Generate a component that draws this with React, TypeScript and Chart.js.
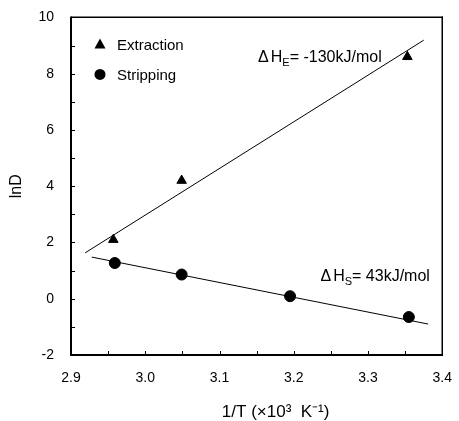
import React, { useEffect, useRef } from 'react';
import { Chart, registerables } from 'chart.js';

Chart.register(...registerables);

const FONT = '"Liberation Sans", Arial, Helvetica, sans-serif';

// Data
const extractionX = [2.957, 3.049, 3.353];
const extractionY = [2.1, 4.2, 8.6];
const strippingX = [2.959, 3.049, 3.195, 3.355];
const strippingY = [1.27, 0.86, 0.09, -0.65];
const extractionFitX = [2.919, 3.375];
const extractionFitY = [1.63, 9.19];
const strippingFitX = [2.928, 3.381];
const strippingFitY = [1.48, -0.9];

const xTicks = [2.9, 3.0, 3.1, 3.2, 3.3, 3.4];
const yTicks = [-2, 0, 2, 4, 6, 8, 10];
const legendLabels = ['Extraction', 'Stripping'];
const xTitle = '1/T (×10³  K⁻¹)';
const yTitle = 'lnD';
// annotation: [delta, main, subscript, rest], anchored in data coordinates
const annotations = [
  { parts: ['Δ', 'H', 'E', '= -130kJ/mol'], x: 3.152, y: 8.56 },
  { parts: ['Δ', 'H', 'S', '= 43kJ/mol'], x: 3.236, y: 0.77 },
];

const zip = (xs: number[], ys: number[]) => xs.map((x, i) => ({ x, y: ys[i] }));

const overlayPlugin = {
  id: 'overlay',
  afterDraw(chart: any) {
    const { ctx, chartArea: a, scales } = chart;
    const xs = scales.x;
    const ys = scales.y;
    ctx.save();
    ctx.setLineDash([]);
    ctx.globalAlpha = 1;
    ctx.strokeStyle = '#000000';
    ctx.fillStyle = '#000000';
    const L = Math.round(a.left);
    const R = Math.round(a.right);
    const T = Math.round(a.top);
    const B = Math.round(a.bottom);
    // frame
    ctx.fillRect(L - 0.5, T - 0.5, R - L + 1.5, 1.5);
    ctx.fillRect(L - 0.5, B - 0.5, R - L + 1.5, 1.5);
    ctx.fillRect(L - 0.5, T - 0.5, 1.5, B - T + 1.5);
    ctx.fillRect(R - 0.5, T - 0.5, 1.5, B - T + 1.5);
    // inward ticks
    ctx.lineWidth = 1;
    const xAll: number[] = [];
    xTicks.forEach((v, i) => {
      xAll.push(v);
      if (i < xTicks.length - 1) xAll.push((v + xTicks[i + 1]) / 2);
    });
    xAll.forEach((v) => {
      const px = Math.round(xs.getPixelForValue(v)) + 0.5;
      ctx.beginPath();
      ctx.moveTo(px, B);
      ctx.lineTo(px, B - 4);
      ctx.stroke();
    });
    const yAll: number[] = [];
    yTicks.forEach((v, i) => {
      yAll.push(v);
      if (i < yTicks.length - 1) yAll.push((v + yTicks[i + 1]) / 2);
    });
    yAll.forEach((v) => {
      const py = Math.round(ys.getPixelForValue(v)) + 0.5;
      ctx.beginPath();
      ctx.moveTo(L, py);
      ctx.lineTo(L + 4, py);
      ctx.stroke();
    });

    // legend
    const lx = a.left + 29;
    const ly0 = a.top + 27;
    const gap = 30;
    ctx.font = `15px ${FONT}`;
    ctx.textBaseline = 'middle';
    ctx.textAlign = 'left';
    legendLabels.forEach((label, i) => {
      const cy = ly0 + i * gap;
      ctx.beginPath();
      if (i === 0) {
        const r = 6;
        ctx.moveTo(lx, cy - r);
        ctx.lineTo(lx + r * 0.92, cy + r * 0.7);
        ctx.lineTo(lx - r * 0.92, cy + r * 0.7);
        ctx.closePath();
      } else {
        ctx.arc(lx, cy, 5.5, 0, Math.PI * 2);
      }
      ctx.fill();
      ctx.fillText(label, lx + 17, cy + 1);
    });

    // annotations
    annotations.forEach((an) => {
      let x = xs.getPixelForValue(an.x);
      const y = ys.getPixelForValue(an.y);
      ctx.font = `16px ${FONT}`;
      ctx.textBaseline = 'middle';
      ctx.fillText(an.parts[0], x, y);
      x += ctx.measureText(an.parts[0]).width + 2;
      ctx.fillText(an.parts[1], x, y);
      x += ctx.measureText(an.parts[1]).width;
      ctx.font = `11px ${FONT}`;
      ctx.fillText(an.parts[2], x, y + 5);
      x += ctx.measureText(an.parts[2]).width;
      ctx.font = `16px ${FONT}`;
      ctx.fillText(an.parts[3], x, y);
    });

    // x title
    ctx.font = `17px ${FONT}`;
    ctx.textAlign = 'center';
    ctx.textBaseline = 'middle';
    ctx.fillText(xTitle, (a.left + a.right) / 2 + 19, a.bottom + 57);
    ctx.restore();
  },
};

export default function App() {
  const ref = useRef<HTMLCanvasElement | null>(null);
  useEffect(() => {
    if (!ref.current) return;
    const chart = new Chart(ref.current, {
      type: 'scatter',
      data: {
        datasets: [
          {
            label: 'Extraction fit',
            data: zip(extractionFitX, extractionFitY),
            showLine: true,
            borderColor: '#000',
            borderWidth: 1,
            pointRadius: 0,
            fill: false,
          },
          {
            label: 'Stripping fit',
            data: zip(strippingFitX, strippingFitY),
            showLine: true,
            borderColor: '#000',
            borderWidth: 1,
            pointRadius: 0,
            fill: false,
          },
          {
            label: legendLabels[0],
            data: zip(extractionX, extractionY),
            pointStyle: 'triangle',
            pointRadius: 5.5,
            backgroundColor: '#000',
            borderColor: '#000',
            borderWidth: 1,
          },
          {
            label: legendLabels[1],
            data: zip(strippingX, strippingY),
            pointStyle: 'circle',
            pointRadius: 5.5,
            backgroundColor: '#000',
            borderColor: '#000',
            borderWidth: 1,
          },
        ],
      },
      options: {
        animation: false,
        responsive: false,
        devicePixelRatio: 1,
        layout: { padding: { left: 0, right: 13, top: 16, bottom: 0 } },
        plugins: {
          legend: { display: false },
          tooltip: { enabled: false },
          title: { display: false },
        },
        scales: {
          x: {
            type: 'linear',
            min: xTicks[0],
            max: xTicks[xTicks.length - 1],
            grid: { display: false },
            border: { display: true, color: '#000', width: 1.5 },
            afterBuildTicks: (s: any) => {
              s.ticks = xTicks.map((v) => ({ value: v }));
            },
            afterFit: (s: any) => {
              s.height = 66;
            },
            ticks: {
              color: '#000',
              font: { family: FONT, size: 14 },
              padding: 7,
              maxRotation: 0,
              autoSkip: false,
              callback: (v: any) => Number(v).toFixed(1),
            },
          },
          y: {
            type: 'linear',
            min: yTicks[0],
            max: yTicks[yTicks.length - 1],
            grid: { display: false },
            border: { display: true, color: '#000', width: 1.5 },
            afterBuildTicks: (s: any) => {
              s.ticks = yTicks.map((v) => ({ value: v }));
            },
            afterFit: (s: any) => {
              s.width = 71;
            },
            title: {
              display: true,
              text: yTitle,
              color: '#000',
              font: { family: FONT, size: 16 },
              padding: { top: 7, bottom: 0 },
            },
            ticks: {
              color: '#000',
              font: { family: FONT, size: 14 },
              padding: 9,
              autoSkip: false,
              callback: (v: any) => String(v),
            },
          },
        },
      },
      plugins: [overlayPlugin],
    });
    return () => chart.destroy();
  }, []);
  return (
    <div style={{ position: 'absolute', left: 0, top: 0, width: 459, height: 421, background: '#fff' }}>
      <canvas ref={ref} width={459} height={421} style={{ display: 'block', width: 459, height: 421 }} />
    </div>
  );
}
